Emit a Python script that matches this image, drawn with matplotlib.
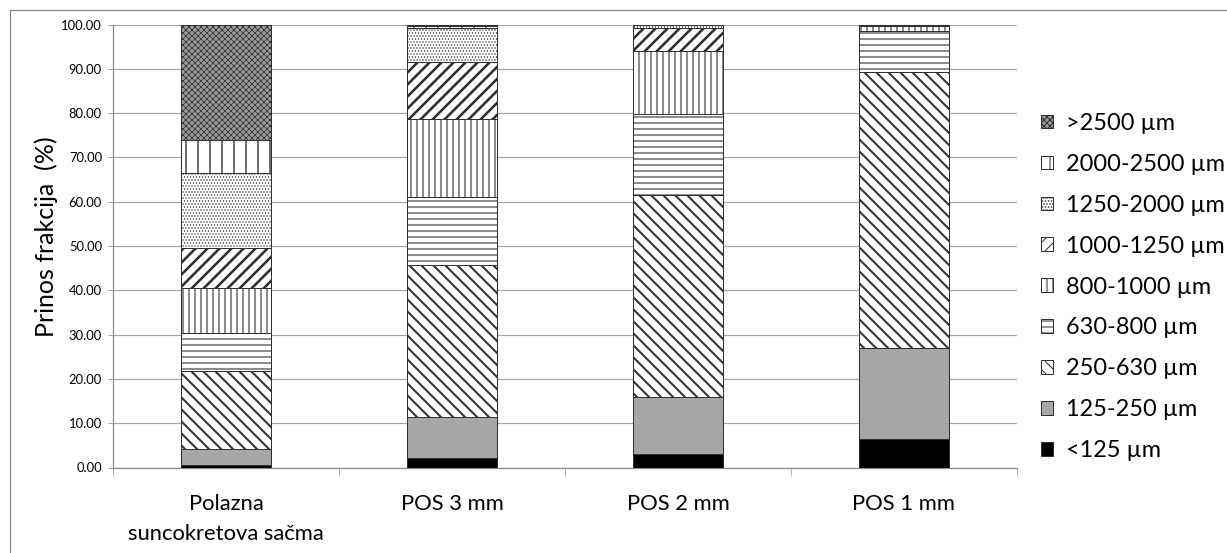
import numpy as np
import matplotlib
matplotlib.use("Agg")
import matplotlib.pyplot as plt
from matplotlib.lines import Line2D

plt.rcParams['font.family'] = ['Lato', 'DejaVu Sans']

categories = ['Polazna\nsuncokretova sačma', 'POS 3 mm', 'POS 2 mm', 'POS 1 mm']
fractions = ['<125 µm', '125-250 µm', '250-630 µm', '630-800 µm', '800-1000 µm',
             '1000-1250 µm', '1250-2000 µm', '2000-2500 µm', '>2500 µm']

# share of each fraction (%) for every sample, bottom to top
f_lt125 = [0.5, 2.2, 3.0, 6.5]
f_125_250 = [3.7, 9.3, 12.9, 20.5]
f_250_630 = [17.5, 34.1, 45.7, 62.3]
f_630_800 = [8.7, 15.4, 18.2, 9.2]
f_800_1000 = [10.1, 17.7, 14.2, 1.2]
f_1000_1250 = [9.0, 12.8, 5.1, 0.3]
f_1250_2000 = [16.9, 7.8, 0.9, 0.0]
f_2000_2500 = [7.5, 0.4, 0.0, 0.0]
f_gt2500 = [26.1, 0.3, 0.0, 0.0]

series = [f_lt125, f_125_250, f_250_630, f_630_800, f_800_1000,
          f_1000_1250, f_1250_2000, f_2000_2500, f_gt2500]

faces = ['black', '#a6a6a6', 'white', 'white', 'white', 'white', 'white', 'white', '#9a9a9a']
hatches = [None, None, '\\\\', '--', '||', '//', '....', '|', 'xxxx']
hatch_lw = [1, 1, 2.0, 1.1, 1.1, 2.6, 0.8, 1.4, 0.7]

fig = plt.figure(figsize=(1227 / 72, 553 / 72), dpi=72)
ax = fig.add_axes([113 / 1227, 1 - 467.5 / 553, 904 / 1227, 443 / 553])

x = np.arange(len(categories))
bottom = np.zeros(len(categories))
for vals, fc, h, lw, lab in zip(series, faces, hatches, hatch_lw, fractions):
    with plt.rc_context({'hatch.linewidth': lw}):
        ax.bar(x, vals, 0.4, bottom=bottom, color=fc, hatch=h, edgecolor='#303030',
               linewidth=1.0, label=lab, zorder=3)
    bottom += np.array(vals)

ax.set_xlim(-0.5, 3.5)
ax.set_ylim(0, 100)
ax.set_yticks(np.arange(0, 101, 10))
ax.set_yticklabels(['%.2f' % v for v in np.arange(0, 101, 10)], fontsize=13)
ax.set_xticks(x)
ax.set_xticklabels(categories, fontsize=22, linespacing=1.65)
ax.set_xticks(np.arange(-0.5, 4, 1), minor=True)
ax.tick_params(axis='x', which='major', length=0, pad=26)
ax.tick_params(axis='x', which='minor', length=8, color='#888888')
ax.tick_params(axis='y', length=5, color='#888888', pad=6)
ax.grid(axis='y', color='#a6a6a6', linewidth=1.2, zorder=0)
for s in ['top', 'right']:
    ax.spines[s].set_visible(False)
for s in ['left', 'bottom']:
    ax.spines[s].set_color('#888888')
    ax.spines[s].set_linewidth(1.2)

ax.set_ylabel('Prinos frakcija  (%)', fontsize=25)
ax.yaxis.set_label_coords(-0.061, 0.52)

handles, labels = ax.get_legend_handles_labels()
fig.legend(handles[::-1], labels[::-1], loc='center left',
           bbox_to_anchor=(1041 / 1227, 1 - 287 / 553), bbox_transform=fig.transFigure,
           frameon=False, fontsize=23.5, handlelength=0.5, handleheight=0.5,
           handletextpad=0.55, labelspacing=0.85, borderpad=0, borderaxespad=0)

# chart area border (only top and left edges are inside the image)
fig.add_artist(Line2D([10 / 1227, 1], [1 - 10 / 553, 1 - 10 / 553], color='#888888', lw=1.2))
fig.add_artist(Line2D([10 / 1227, 10 / 1227], [0, 1 - 10 / 553], color='#888888', lw=1.2))

fig.savefig('out.png', dpi=72)
